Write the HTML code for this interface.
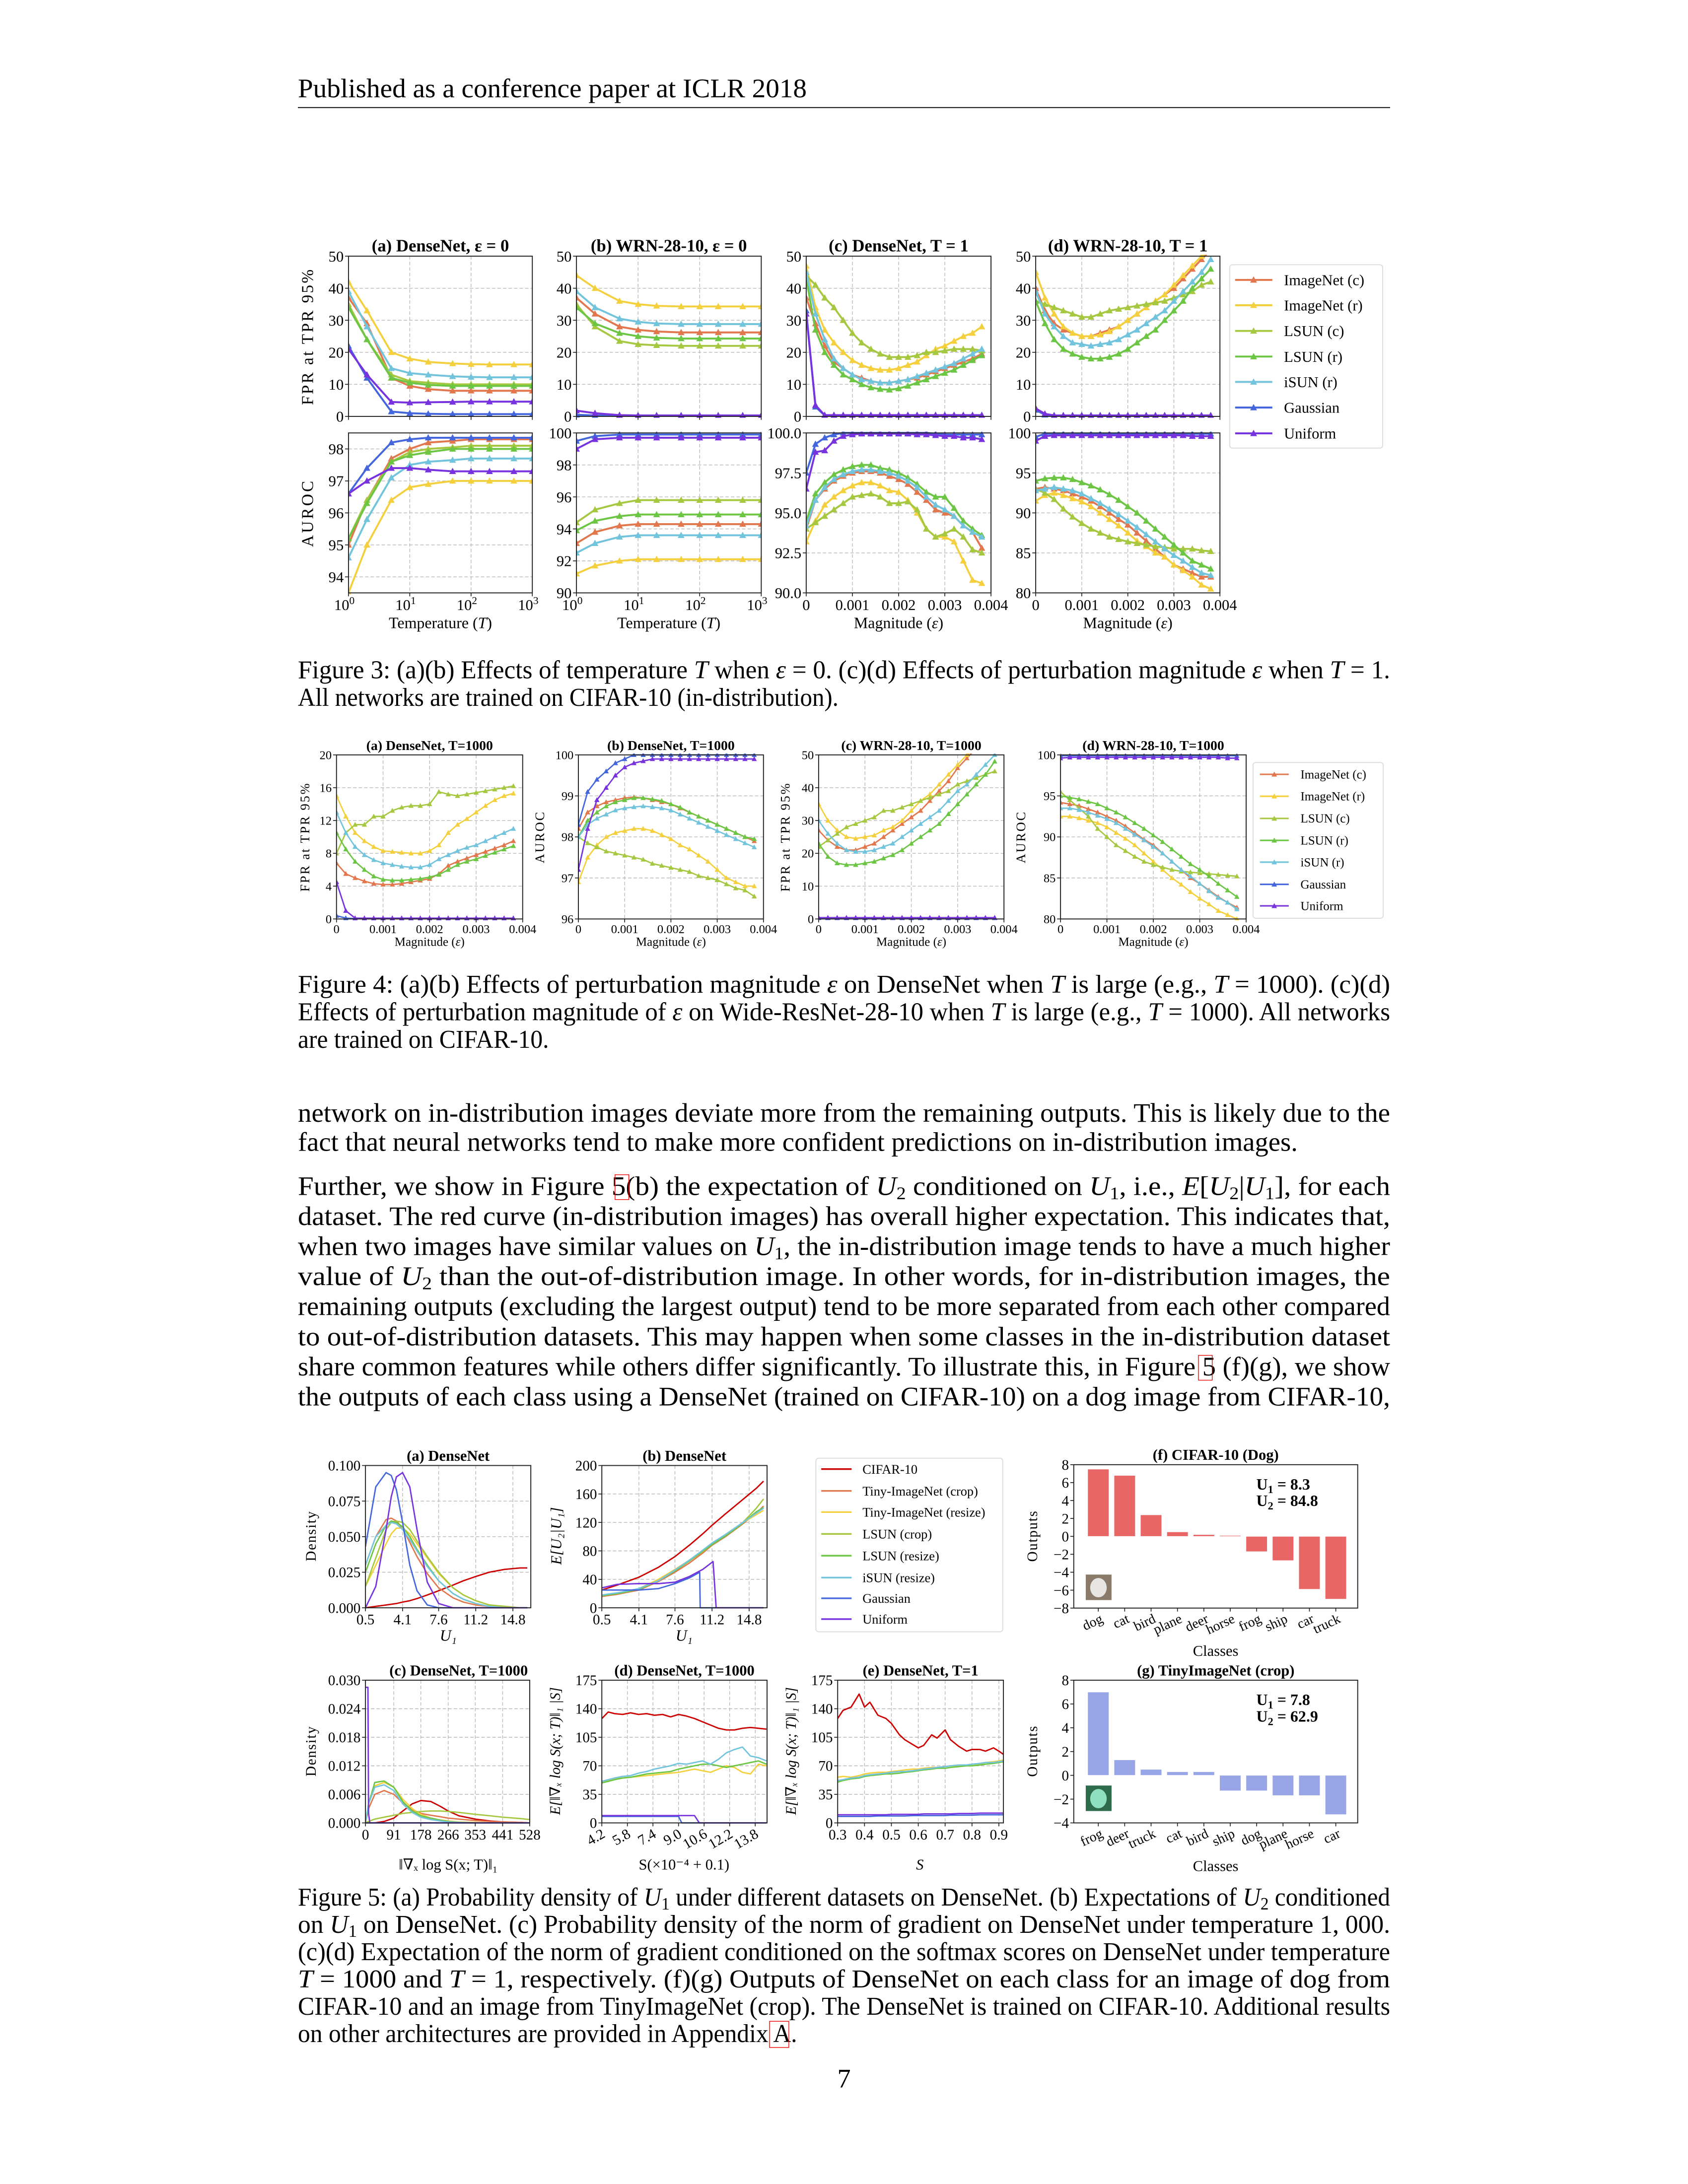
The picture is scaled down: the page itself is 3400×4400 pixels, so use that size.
<!DOCTYPE html>
<html><head><meta charset="utf-8"><title>ICLR 2018 page 7</title>
<style>
html,body{margin:0;padding:0;background:#fff;}
svg{display:block;}
text{font-family:"Liberation Serif","DejaVu Serif",serif;fill:#000;}
.it{font-style:italic;}
.b{font-weight:bold;}
</style></head>
<body>
<svg id="page-svg" xmlns="http://www.w3.org/2000/svg" width="3400" height="4400" viewBox="0 0 1224 1584">
<rect x="0" y="0" width="1224" height="1584" fill="#fff"/>
<text x="216" y="70.5" font-size="19.5" textLength="369" lengthAdjust="spacingAndGlyphs">Published as a conference paper at ICLR 2018</text>
<line x1="216" y1="78" x2="1008" y2="78" stroke="#000" stroke-width="0.7"/>

<g font-size="18.5">
<text x="216" y="492" textLength="792" lengthAdjust="spacingAndGlyphs">Figure 3: (a)(b) Effects of temperature <tspan class="it">T</tspan> when <tspan class="it">ε</tspan> = 0. (c)(d) Effects of perturbation magnitude <tspan class="it">ε</tspan> when <tspan class="it">T</tspan> = 1.</text>
<text x="216" y="512" textLength="392" lengthAdjust="spacingAndGlyphs">All networks are trained on CIFAR-10 (in-distribution).</text>
</g>
<g font-size="18.5">
<text x="216" y="720" textLength="792" lengthAdjust="spacingAndGlyphs">Figure 4: (a)(b) Effects of perturbation magnitude <tspan class="it">ε</tspan> on DenseNet when <tspan class="it">T</tspan> is large (e.g., <tspan class="it">T</tspan> = 1000). (c)(d)</text>
<text x="216" y="740" textLength="792" lengthAdjust="spacingAndGlyphs">Effects of perturbation magnitude of <tspan class="it">ε</tspan> on Wide-ResNet-28-10 when <tspan class="it">T</tspan> is large (e.g., <tspan class="it">T</tspan> = 1000). All networks</text>
<text x="216" y="760" textLength="182" lengthAdjust="spacingAndGlyphs">are trained on CIFAR-10.</text>
</g>

<g font-size="19.5">
<text x="216" y="813.6" textLength="792" lengthAdjust="spacingAndGlyphs">network on in-distribution images deviate more from the remaining outputs. This is likely due to the</text>
<text x="216" y="834.6" textLength="725" lengthAdjust="spacingAndGlyphs">fact that neural networks tend to make more confident predictions on in-distribution images.</text>
<text x="216" y="866.7" textLength="792" lengthAdjust="spacingAndGlyphs">Further, we show in Figure 5(b) the expectation of <tspan class="it">U</tspan><tspan font-size="13" dy="3">2</tspan><tspan dy="-3"> conditioned on </tspan><tspan class="it">U</tspan><tspan font-size="13" dy="3">1</tspan><tspan dy="-3">, i.e., </tspan><tspan class="it">E</tspan>[<tspan class="it">U</tspan><tspan font-size="13" dy="3">2</tspan><tspan dy="-3">|</tspan><tspan class="it">U</tspan><tspan font-size="13" dy="3">1</tspan><tspan dy="-3">], for each</tspan></text>
<text x="216" y="888.5" textLength="792" lengthAdjust="spacingAndGlyphs">dataset. The red curve (in-distribution images) has overall higher expectation. This indicates that,</text>
<text x="216" y="910.3" textLength="792" lengthAdjust="spacingAndGlyphs">when two images have similar values on <tspan class="it">U</tspan><tspan font-size="13" dy="3">1</tspan><tspan dy="-3">, the in-distribution image tends to have a much higher</tspan></text>
<text x="216" y="932.1" textLength="792" lengthAdjust="spacingAndGlyphs">value of <tspan class="it">U</tspan><tspan font-size="13" dy="3">2</tspan><tspan dy="-3"> than the out-of-distribution image.  In other words, for in-distribution images, the</tspan></text>
<text x="216" y="953.9" textLength="792" lengthAdjust="spacingAndGlyphs">remaining outputs (excluding the largest output) tend to be more separated from each other compared</text>
<text x="216" y="975.7" textLength="792" lengthAdjust="spacingAndGlyphs">to out-of-distribution datasets. This may happen when some classes in the in-distribution dataset</text>
<text x="216" y="997.5" textLength="792" lengthAdjust="spacingAndGlyphs">share common features while others differ significantly. To illustrate this, in Figure 5 (f)(g), we show</text>
<text x="216" y="1019.4" textLength="792" lengthAdjust="spacingAndGlyphs">the outputs of each class using a DenseNet (trained on CIFAR-10) on a dog image from CIFAR-10,</text>
</g>
<rect x="446" y="852" width="10" height="18" fill="none" stroke="#e00" stroke-width="0.5"/>
<rect x="869" y="983" width="10" height="18" fill="none" stroke="#e00" stroke-width="0.5"/>

<g font-size="18.5">
<text x="216" y="1382" textLength="792" lengthAdjust="spacingAndGlyphs">Figure 5: (a) Probability density of <tspan class="it">U</tspan><tspan font-size="12.5" dy="3">1</tspan><tspan dy="-3"> under different datasets on DenseNet. (b) Expectations of </tspan><tspan class="it">U</tspan><tspan font-size="12.5" dy="3">2</tspan><tspan dy="-3"> conditioned</tspan></text>
<text x="216" y="1401.8" textLength="792" lengthAdjust="spacingAndGlyphs">on <tspan class="it">U</tspan><tspan font-size="12.5" dy="3">1</tspan><tspan dy="-3"> on DenseNet. (c) Probability density of the norm of gradient on DenseNet under temperature 1, 000.</tspan></text>
<text x="216" y="1421.6" textLength="792" lengthAdjust="spacingAndGlyphs">(c)(d) Expectation of the norm of gradient conditioned on the softmax scores on DenseNet under temperature</text>
<text x="216" y="1441.4" textLength="792" lengthAdjust="spacingAndGlyphs"><tspan class="it">T</tspan> = 1000 and <tspan class="it">T</tspan> = 1, respectively.  (f)(g) Outputs of DenseNet on each class for an image of dog from</text>
<text x="216" y="1461.2" textLength="792" lengthAdjust="spacingAndGlyphs">CIFAR-10 and an image from TinyImageNet (crop). The DenseNet is trained on CIFAR-10. Additional results</text>
<text x="216" y="1481" textLength="362" lengthAdjust="spacingAndGlyphs">on other architectures are provided in Appendix A.</text>
</g>
<rect x="558" y="1466" width="14" height="19" fill="none" stroke="#e00" stroke-width="0.5"/>
<text x="612" y="1514" font-size="19.5" text-anchor="middle">7</text>
</svg>

<script>
// ---------------- DATA ----------------
const TEMPS = [1, 2, 5, 10, 20, 50, 100, 200, 500, 1000];
const EPS = [0, 0.0002, 0.0004, 0.0006, 0.0008, 0.001, 0.0012, 0.0014, 0.0016, 0.0018, 0.002, 0.0022, 0.0024, 0.0026, 0.0028, 0.003, 0.0032, 0.0034, 0.0036, 0.0038];
const OOD_NAMES = ['ImageNet (c)', 'ImageNet (r)', 'LSUN (c)', 'LSUN (r)', 'iSUN (r)', 'Gaussian', 'Uniform'];

// Figure 3 (a) DenseNet eps=0
const f3aFpr = [
  [37, 29, 12, 9.5, 8.5, 8, 8, 8, 8, 8],
  [42, 33, 20, 18, 17, 16.5, 16.3, 16.2, 16.2, 16.2],
  [35, 24, 13, 11, 10.5, 10, 10, 10, 10, 10],
  [34, 24, 12, 10.5, 9.8, 9.5, 9.5, 9.5, 9.5, 9.5],
  [39, 28, 15, 13.5, 13, 12.5, 12.3, 12.2, 12.2, 12.2],
  [22, 12, 1.5, 1, 0.8, 0.7, 0.7, 0.7, 0.7, 0.7],
  [21, 13, 4.5, 4.3, 4.4, 4.5, 4.6, 4.6, 4.6, 4.6]];
const f3aAuc = [
  [95, 96.4, 97.7, 98.0, 98.2, 98.25, 98.3, 98.3, 98.3, 98.3],
  [93.5, 95, 96.4, 96.8, 96.9, 97.0, 97.0, 97.0, 97.0, 97.0],
  [95.2, 96.4, 97.6, 97.9, 98.0, 98.05, 98.1, 98.1, 98.1, 98.1],
  [95.2, 96.3, 97.6, 97.8, 97.9, 98.0, 98.0, 98.0, 98.0, 98.0],
  [94.6, 95.8, 97.1, 97.5, 97.6, 97.65, 97.7, 97.7, 97.7, 97.7],
  [96.6, 97.4, 98.2, 98.3, 98.35, 98.35, 98.35, 98.35, 98.35, 98.35],
  [96.6, 97.0, 97.4, 97.4, 97.35, 97.3, 97.3, 97.3, 97.3, 97.3]];
// Figure 3 (b) WRN eps=0
const f3bFpr = [
  [37, 32, 28, 27, 26.5, 26.2, 26.2, 26.2, 26.2, 26.2],
  [44, 40, 36, 35, 34.5, 34.3, 34.3, 34.3, 34.3, 34.3],
  [35, 28, 23.5, 22.5, 22.2, 22, 22, 22, 22, 22],
  [34, 29, 26, 25, 24.5, 24.3, 24.3, 24.3, 24.3, 24.3],
  [39, 34, 30.5, 29.5, 29, 28.8, 28.8, 28.8, 28.8, 28.8],
  [0.5, 0.3, 0.2, 0.2, 0.2, 0.2, 0.2, 0.2, 0.2, 0.2],
  [1.8, 1, 0.4, 0.3, 0.3, 0.3, 0.3, 0.3, 0.3, 0.3]];
const f3bAuc = [
  [93.1, 93.8, 94.2, 94.3, 94.3, 94.3, 94.3, 94.3, 94.3, 94.3],
  [91.2, 91.7, 92.0, 92.1, 92.1, 92.1, 92.1, 92.1, 92.1, 92.1],
  [94.4, 95.2, 95.6, 95.8, 95.8, 95.8, 95.8, 95.8, 95.8, 95.8],
  [93.9, 94.5, 94.8, 94.9, 94.9, 94.9, 94.9, 94.9, 94.9, 94.9],
  [92.5, 93.1, 93.5, 93.6, 93.6, 93.6, 93.6, 93.6, 93.6, 93.6],
  [99.5, 99.8, 99.9, 99.9, 99.9, 99.9, 99.9, 99.9, 99.9, 99.9],
  [99.0, 99.6, 99.7, 99.7, 99.7, 99.7, 99.7, 99.7, 99.7, 99.7]];
// Figure 3 (c) DenseNet T=1
const f3cFpr = [
  [37, 29, 22, 17, 15, 13, 12, 11, 10.5, 10.5, 11, 11.5, 12, 13, 14, 15, 16, 17, 18, 19.5],
  [47, 34, 27, 23, 20, 17.5, 16, 15, 14.5, 14.5, 15, 16, 17, 19, 21, 22, 23.5, 25, 26, 28],
  [44, 41, 37, 34, 30, 26, 23, 21, 19.5, 18.5, 18.5, 18.5, 19, 20, 20, 20.5, 21, 21, 21, 20.5],
  [43, 27, 20, 16, 13, 11.5, 10, 9, 8.5, 8.3, 8.7, 9.5, 10.5, 11.5, 12.5, 13.5, 14.5, 16, 17.5, 19],
  [45, 32, 24, 18, 15, 13, 11.5, 11, 10.5, 10.5, 11, 11.5, 12.5, 13.5, 14.5, 15.5, 16.5, 18, 19.5, 21],
  [33, 3, 0.3, 0.3, 0.3, 0.3, 0.3, 0.3, 0.3, 0.3, 0.3, 0.3, 0.3, 0.3, 0.3, 0.3, 0.3, 0.3, 0.3, 0.3],
  [32, 3.5, 0.4, 0.4, 0.4, 0.4, 0.4, 0.4, 0.4, 0.4, 0.4, 0.4, 0.4, 0.4, 0.4, 0.4, 0.4, 0.4, 0.4, 0.4]];
const f3cAuc = [
  [94, 95.8, 96.5, 97, 97.3, 97.5, 97.6, 97.6, 97.5, 97.3, 97.1, 96.8, 96.3, 95.8, 95.2, 95, 94.8, 94.2, 93.8, 92.8],
  [93.2, 94.5, 95.5, 96, 96.4, 96.7, 96.9, 96.9, 96.7, 96.4, 96.3, 95.8, 95, 94, 93.5, 93.5, 93.2, 92, 90.8, 90.6],
  [94, 94.4, 94.8, 95.2, 95.6, 96, 96.1, 96.2, 96.0, 95.6, 95.6, 95.7, 95.2, 94, 93.5, 93.7, 94, 93.5, 92.7, 92.5],
  [94.5, 96.2, 96.9, 97.4, 97.7, 97.9, 98, 98, 97.8, 97.7, 97.5, 97.2, 96.8, 96.3, 96, 96, 95.3, 94.5, 94, 93.6],
  [94.2, 95.8, 96.6, 97.1, 97.4, 97.6, 97.7, 97.7, 97.6, 97.5, 97.3, 97.0, 96.6, 96, 95.5, 95.2, 94.8, 94.2, 93.8, 93.5],
  [97.5, 99.3, 99.7, 99.9, 100, 100, 100, 100, 100, 100, 100, 100, 100, 100, 99.95, 99.9, 99.9, 99.9, 99.9, 99.9],
  [96.5, 98.8, 98.9, 99.5, 99.8, 99.9, 99.95, 99.95, 99.95, 99.95, 99.95, 99.95, 99.9, 99.9, 99.85, 99.8, 99.8, 99.7, 99.7, 99.6]];
// Figure 3 (d) WRN T=1
const f3dFpr = [
  [40, 33, 29, 27, 26, 25, 25, 26, 27, 28, 30, 32, 34, 36, 38, 40, 43, 46, 49, 52],
  [45, 37, 32, 28, 26, 25, 25, 25.5, 26.5, 28, 30, 32, 34, 36, 38, 41, 44, 47, 50, 52],
  [36, 35, 34, 33, 32, 31, 31, 32, 33, 33.5, 34, 34.5, 35, 35.5, 36, 37, 38, 39, 41, 42],
  [36, 29, 24, 21, 19.5, 18.5, 18, 18, 18.5, 19.5, 21, 23, 25, 27, 30, 33, 36, 40, 43, 46],
  [39, 32, 28, 25, 23, 22.5, 22, 22.5, 23, 24, 25.5, 27, 29, 31, 33, 36, 39, 42, 45, 49],
  [2, 0.5, 0.3, 0.3, 0.3, 0.3, 0.3, 0.3, 0.3, 0.3, 0.3, 0.3, 0.3, 0.3, 0.3, 0.3, 0.3, 0.3, 0.3, 0.3],
  [2.5, 0.8, 0.3, 0.3, 0.3, 0.3, 0.3, 0.3, 0.3, 0.3, 0.3, 0.3, 0.3, 0.3, 0.3, 0.3, 0.3, 0.3, 0.3, 0.3]];
const f3dAuc = [
  [93, 93.2, 93, 92.8, 92.4, 92, 91.5, 90.8, 90, 89.2, 88.5, 87.5, 86.5, 85.5, 84.5, 83.5, 83, 82.5, 82, 82],
  [91.5, 92.2, 92.5, 92.2, 91.8, 91.4, 90.8, 90, 89.2, 88.4, 87.5, 86.5, 85.8, 85, 84.5, 83.5, 82.8, 82, 81, 80.5],
  [93, 92.5, 91.7, 90.5, 89.5, 88.7, 88, 87.5, 87, 86.7, 86.4, 86.2, 86, 85.8, 85.7, 85.5, 85.5, 85.5, 85.3, 85.2],
  [94, 94.3, 94.4, 94.4, 94.2, 93.8, 93.4, 92.9, 92.3, 91.6, 90.8, 90, 89, 88, 87, 86, 85, 84, 83.5, 83],
  [92.8, 93, 93.2, 93, 92.8, 92.4, 91.8, 91.2, 90.5, 89.8, 89, 88.2, 87.3, 86.4, 85.5, 84.7, 84, 83.2, 82.5, 82.2],
  [99.5, 99.9, 99.9, 99.9, 99.9, 99.9, 99.9, 99.9, 99.9, 99.9, 99.9, 99.9, 99.9, 99.9, 99.9, 99.9, 99.9, 99.9, 99.9, 99.9],
  [99.0, 99.6, 99.7, 99.7, 99.7, 99.7, 99.7, 99.7, 99.7, 99.7, 99.7, 99.7, 99.7, 99.7, 99.7, 99.7, 99.7, 99.6, 99.6, 99.6]];

// Figure 4 (T=1000)
const f4aFpr = [
  [6.8, 5.5, 5, 4.6, 4.3, 4.2, 4.2, 4.3, 4.5, 4.7, 4.9, 5.5, 6.5, 7, 7.4, 7.8, 8.2, 8.6, 9, 9.5],
  [15, 12.5, 10.5, 9.5, 8.8, 8.3, 8.2, 8.1, 8, 8, 8.3, 9, 10.5, 11.5, 12.2, 13, 13.8, 14.5, 15, 15.3],
  [8, 10.5, 11.5, 11.5, 12.5, 12.5, 13.2, 13.6, 13.8, 13.8, 14, 15.5, 15.2, 15, 15.2, 15.4, 15.6, 15.8, 16, 16.2],
  [10.5, 8.5, 7, 6, 5.2, 4.8, 4.7, 4.7, 4.8, 4.9, 5.1, 5.4, 6, 6.6, 7, 7.3, 7.7, 8.1, 8.5, 8.9],
  [13, 10.5, 8.8, 7.8, 7.2, 6.8, 6.6, 6.4, 6.3, 6.3, 6.6, 7.3, 7.8, 8.3, 8.7, 9, 9.5, 10, 10.5, 11],
  [0.4, 0.1, 0.05, 0.05, 0.05, 0.05, 0.05, 0.05, 0.05, 0.05, 0.05, 0.05, 0.05, 0.05, 0.05, 0.05, 0.05, 0.05, 0.05, 0.05],
  [4.5, 1, 0.1, 0.1, 0.1, 0.1, 0.1, 0.1, 0.1, 0.1, 0.1, 0.1, 0.1, 0.1, 0.1, 0.1, 0.1, 0.1, 0.1, 0.1]];
const f4bAuc = [
  [98.2, 98.6, 98.75, 98.85, 98.9, 98.95, 98.97, 98.95, 98.9, 98.85, 98.8, 98.7, 98.6, 98.5, 98.4, 98.3, 98.2, 98.1, 98.0, 97.9],
  [96.9, 97.5, 97.8, 98.0, 98.1, 98.15, 98.2, 98.2, 98.15, 98.05, 97.95, 97.8, 97.7, 97.55, 97.4, 97.2, 97.0, 96.9, 96.8, 96.8],
  [98.0, 97.85, 97.75, 97.65, 97.6, 97.55, 97.5, 97.45, 97.35, 97.3, 97.25, 97.2, 97.15, 97.05, 97, 96.95, 96.85, 96.75, 96.7, 96.55],
  [98.0, 98.4, 98.6, 98.75, 98.85, 98.9, 98.95, 98.95, 98.92, 98.88, 98.8, 98.72, 98.6, 98.5, 98.4, 98.3, 98.2, 98.1, 98, 97.95],
  [98.0, 98.3, 98.45, 98.55, 98.65, 98.7, 98.73, 98.75, 98.73, 98.7, 98.65, 98.55, 98.45, 98.35, 98.25, 98.15, 98.05, 97.95, 97.85, 97.75],
  [98.3, 99.1, 99.4, 99.6, 99.8, 99.9, 100, 100, 100, 100, 100, 100, 100, 100, 100, 100, 100, 100, 100, 100],
  [97.2, 98.2, 98.9, 99.2, 99.5, 99.7, 99.8, 99.85, 99.9, 99.9, 99.9, 99.9, 99.9, 99.9, 99.9, 99.9, 99.9, 99.9, 99.9, 99.9]];
const f4cFpr = [
  [27, 24, 22, 21, 21, 22, 23, 25, 27, 29, 31, 33, 36, 39, 42, 46, 49, 52, 55, 58],
  [35, 30, 27, 25, 24.5, 25, 25.5, 27, 28, 30, 33, 36, 38, 41, 44, 47, 50, 52, 54, 56],
  [22, 24, 26, 28, 29, 30, 31, 33, 33, 34, 35, 36, 37, 38, 39, 41, 42, 43, 44, 45],
  [23, 19, 17, 16.5, 16.5, 17, 17.5, 18.5, 19.5, 21, 23, 25, 27, 29, 32, 35, 38, 41, 44, 48],
  [30, 26, 23, 21, 20.5, 20.5, 21, 22, 23, 25, 27, 29, 31, 33, 36, 39, 41, 44, 47, 50],
  [0.3, 0.3, 0.3, 0.3, 0.3, 0.3, 0.3, 0.3, 0.3, 0.3, 0.3, 0.3, 0.3, 0.3, 0.3, 0.3, 0.3, 0.3, 0.3, 0.3],
  [0.4, 0.4, 0.4, 0.4, 0.4, 0.4, 0.4, 0.4, 0.4, 0.4, 0.4, 0.4, 0.4, 0.4, 0.4, 0.4, 0.4, 0.4, 0.4, 0.4]];
const f4dAuc = [
  [94.2, 94, 93.8, 93.4, 93, 92.5, 92, 91.3, 90.5, 89.7, 89, 88, 87, 86, 85, 84.3, 83.5, 82.7, 82, 81.4],
  [92.5, 92.5, 92.3, 92, 91.7, 91.2, 90.5, 89.8, 89, 88, 87, 86, 85, 84.2, 83.3, 82.5, 81.8, 81, 80.5, 80],
  [95.5, 94.5, 93.5, 92.5, 91, 90, 89, 88.3, 87.6, 87, 86.6, 86.3, 86, 85.8, 85.7, 85.6, 85.5, 85.4, 85.3, 85.2],
  [95, 94.8, 94.6, 94.3, 94, 93.5, 93, 92.4, 91.7, 91, 90.2, 89.4, 88.5, 87.6, 86.7, 86, 85.2, 84.3, 83.5, 82.7],
  [93.5, 93.5, 93.3, 93, 92.6, 92.2, 91.7, 91, 90.3, 89.6, 88.8, 88, 87, 86, 85.2, 84.3, 83.4, 82.6, 82, 81.2],
  [99.9, 99.9, 99.9, 99.9, 99.9, 99.9, 99.9, 99.9, 99.9, 99.9, 99.9, 99.9, 99.9, 99.9, 99.9, 99.9, 99.9, 99.9, 99.9, 99.9],
  [99.6, 99.7, 99.7, 99.7, 99.7, 99.7, 99.7, 99.7, 99.7, 99.7, 99.7, 99.7, 99.7, 99.7, 99.7, 99.7, 99.7, 99.7, 99.6, 99.6]];

// Figure 5
const F5_NAMES = ['CIFAR-10', 'Tiny-ImageNet (crop)', 'Tiny-ImageNet (resize)', 'LSUN (crop)', 'LSUN (resize)', 'iSUN (resize)', 'Gaussian', 'Uniform'];
const f5aX = [0.5, 1.5, 2.5, 3, 3.5, 4.1, 4.8, 5.5, 6.5, 7.6, 9, 10, 11.2, 12.5, 14, 15.5, 16.2];
const f5aY = [
  [0, 0.001, 0.002, 0.0025, 0.003, 0.004, 0.005, 0.0065, 0.009, 0.012, 0.016, 0.019, 0.022, 0.025, 0.027, 0.028, 0.028],
  [0.03, 0.05, 0.062, 0.063, 0.061, 0.056, 0.046, 0.036, 0.024, 0.014, 0.007, 0.004, 0.002, 0.001, 0, 0, 0],
  [0.015, 0.03, 0.045, 0.052, 0.056, 0.056, 0.052, 0.045, 0.035, 0.024, 0.014, 0.009, 0.005, 0.002, 0.001, 0, 0],
  [0.015, 0.035, 0.055, 0.06, 0.061, 0.06, 0.055, 0.047, 0.036, 0.025, 0.014, 0.009, 0.005, 0.002, 0.001, 0, 0],
  [0.025, 0.045, 0.058, 0.061, 0.06, 0.057, 0.05, 0.041, 0.03, 0.019, 0.01, 0.006, 0.003, 0.001, 0, 0, 0],
  [0.03, 0.05, 0.058, 0.06, 0.059, 0.055, 0.048, 0.04, 0.029, 0.019, 0.01, 0.006, 0.003, 0.001, 0, 0, 0],
  [0.043, 0.085, 0.095, 0.093, 0.083, 0.06, 0.03, 0.012, 0.002, 0, 0, 0, 0, 0, 0, 0, 0],
  [0, 0.015, 0.055, 0.078, 0.092, 0.095, 0.085, 0.055, 0.018, 0.003, 0, 0, 0, 0, 0, 0, 0]];
const f5bX = [0.5, 2, 4.1, 6, 7.6, 9, 10.3, 11.2, 12.5, 14, 15.5, 16.2];
const f5bY = [
  [25, 32, 43, 57, 72, 88, 104, 116, 132, 150, 168, 178],
  [16, 19, 25, 37, 50, 63, 77, 88, 100, 116, 133, 143],
  [17, 20, 27, 40, 54, 67, 80, 90, 102, 118, 131, 137],
  [17, 20, 26, 38, 52, 66, 79, 89, 101, 117, 140, 153],
  [17, 20, 26, 38, 52, 66, 80, 89, 101, 117, 135, 141],
  [18, 21, 27, 38, 53, 67, 81, 91, 103, 118, 133, 140]];
const f5bGaussX = [0.5, 2, 4.1, 6, 7.6, 9, 10.0, 10.05, 16.2];
const f5bGaussY = [25, 25, 25, 27, 34, 42, 50, 0, 0];
const f5bUnifX = [0.5, 2, 4.1, 6, 7.6, 9, 10.3, 11.3, 11.6, 16.2];
const f5bUnifY = [28, 33, 34, 34, 36, 44, 54, 65, 0, 0];
const f5cX = [0, 10, 30, 60, 91, 120, 150, 178, 210, 240, 266, 300, 353, 400, 441, 500, 528];
const f5cY = [
  [0, 0, 0, 0.0003, 0.001, 0.0025, 0.004, 0.0047, 0.0045, 0.0035, 0.0025, 0.0015, 0.0008, 0.0004, 0.0002, 0.0001, 0],
  [0, 0.003, 0.006, 0.0068, 0.006, 0.0042, 0.0028, 0.002, 0.0016, 0.0013, 0.001, 0.0008, 0.0005, 0.0003, 0.0002, 0.0001, 0],
  [0, 0.004, 0.0078, 0.0085, 0.0075, 0.005, 0.003, 0.0018, 0.001, 0.0006, 0.0004, 0.0002, 0.0001, 0, 0, 0, 0],
  [0, 0.0003, 0.0008, 0.0012, 0.0016, 0.002, 0.0022, 0.0024, 0.0025, 0.0025, 0.0024, 0.0022, 0.0018, 0.0015, 0.0012, 0.0009, 0.0007],
  [0, 0.004, 0.0085, 0.0088, 0.0075, 0.0045, 0.0025, 0.0015, 0.001, 0.0006, 0.0003, 0.0001, 0, 0, 0, 0, 0],
  [0, 0.004, 0.0075, 0.008, 0.0068, 0.004, 0.0022, 0.0012, 0.0007, 0.0004, 0.0002, 0.0001, 0, 0, 0, 0, 0],
  [0, 0, 0, 0, 0, 0, 0, 0, 0, 0, 0, 0, 0, 0, 0, 0, 0]];
const f5cUnifX = [0, 8, 10, 14, 528];
const f5cUnifY = [0.0285, 0.0285, 0.002, 0, 0];
const f5dX = [4.2, 4.6, 5, 5.5, 6, 6.5, 7, 7.5, 8, 8.5, 9, 9.5, 10, 10.5, 11, 11.5, 12, 12.5, 13, 13.5, 14, 14.5];
const f5dY = [
  [128, 136, 134, 133, 135, 133, 134, 132, 133, 130, 133, 131, 128, 124, 120, 116, 114, 114, 116, 117, 116, 115],
  null,
  [50, 52, 54, 55, 56, 57, 58, 59, 60, 61, 62, 64, 66, 64, 62, 66, 70, 68, 62, 60, 72, 70],
  null,
  [49, 51, 53, 55, 56, 58, 60, 61, 62, 63, 66, 68, 70, 72, 72, 70, 68, 70, 72, 74, 76, 72],
  [51, 53, 55, 57, 58, 61, 63, 66, 68, 70, 73, 72, 74, 76, 72, 78, 86, 90, 93, 82, 80, 76]];
const f5dGaussX = [4.2, 9.0, 9.2, 14.5];
const f5dGaussY = [8, 8, 0, 0];
const f5dUnifX = [4.2, 10.0, 10.3, 14.5];
const f5dUnifY = [9, 9, 0, 0];
const f5eX = [0.3, 0.32, 0.35, 0.38, 0.4, 0.42, 0.45, 0.48, 0.5, 0.53, 0.55, 0.58, 0.6, 0.62, 0.65, 0.67, 0.7, 0.72, 0.75, 0.78, 0.8, 0.83, 0.85, 0.88, 0.9, 0.917];
const f5eY = [
  [128, 138, 142, 158, 142, 148, 132, 128, 122, 108, 102, 96, 92, 95, 108, 104, 114, 102, 94, 88, 90, 90, 88, 92, 88, 84],
  null,
  [56, 57, 56, 58, 60, 61, 62, 62, 63, 64, 65, 66, 66, 67, 68, 68, 69, 70, 70, 71, 72, 72, 74, 75, 76, 77],
  null,
  [50, 52, 54, 55, 57, 58, 59, 60, 60, 61, 62, 63, 64, 65, 66, 67, 67, 68, 69, 70, 70, 71, 72, 73, 74, 75],
  [52, 53, 55, 56, 58, 59, 60, 61, 62, 63, 63, 64, 65, 66, 67, 68, 69, 70, 71, 71, 72, 73, 74, 74, 75, 76],
  [8, 8, 8, 8, 8, 8, 8.5, 8.5, 8.5, 8.5, 8.5, 9, 9, 9, 9, 9, 9, 9.5, 9.5, 9.5, 9.5, 10, 10, 10, 10, 10],
  [10, 10, 10, 10, 10, 10, 10, 10, 10.5, 10.5, 10.5, 10.5, 10.5, 11, 11, 11, 11, 11, 11.5, 11.5, 11.5, 12, 12, 12, 12, 12]];
const f5fClasses = ['dog', 'cat', 'bird', 'plane', 'deer', 'horse', 'frog', 'ship', 'car', 'truck'];
const f5fValues = [7.5, 6.8, 2.4, 0.5, 0.2, 0.1, -1.7, -2.7, -5.9, -7.0];
const f5gClasses = ['frog', 'deer', 'truck', 'cat', 'bird', 'ship', 'dog', 'plane', 'horse', 'car'];
const f5gValues = [7.0, 1.3, 0.5, 0.3, 0.3, -1.3, -1.3, -1.7, -1.7, -3.3];

// ---------------- DRAWING ----------------
const COLORS = ['#e2774d', '#f4d03f', '#a6c841', '#6cc644', '#72c3dc', '#4466dd', '#7733dd'];
const F5_COLORS = ['#cc0000', '#e2774d', '#f4d03f', '#a6c841', '#6cc644', '#72c3dc', '#4466dd', '#7733dd'];
const NS = 'http://www.w3.org/2000/svg';
const svg = document.getElementById('page-svg');
let clipN = 0;
function mk(tag, parent, a) {
  const e = document.createElementNS(NS, tag);
  for (const k in a) e.setAttribute(k, a[k]);
  parent.appendChild(e);
  return e;
}
function txt(parent, x, y, s, a) {
  const t = mk('text', parent, Object.assign({x: x, y: y}, a || {}));
  t.textContent = s;
  return t;
}

function axes(o) {
  const g = mk('g', svg, {});
  
  
  const L = Math.log10;
  const sx = o.xlog ? v => o.x0 + (L(v) - L(o.xmin)) / (L(o.xmax) - L(o.xmin)) * (o.x1 - o.x0)
                    : v => o.x0 + (v - o.xmin) / (o.xmax - o.xmin) * (o.x1 - o.x0);
  const sy = v => o.y1 - (v - o.ymin) / (o.ymax - o.ymin) * (o.y1 - o.y0);
  const fs = o.fs || 11;
  const grid = mk('g', g, {stroke: '#b8b8b8', 'stroke-width': 0.5, 'stroke-dasharray': '2.5,1.5', fill: 'none'});
  
  
  if (o.xgrid !== false) (o.xt || []).forEach(v => mk('line', grid, {x1: sx(v), x2: sx(v), y1: o.y0, y2: o.y1}));
  if (o.ygrid !== false) (o.yt || []).forEach(v => mk('line', grid, {x1: o.x0, x2: o.x1, y1: sy(v), y2: sy(v)}));
  const id = 'clip' + (clipN++);
  const cp = mk('clipPath', g, {id: id});
  mk('rect', cp, {x: o.x0, y: o.y0 - 1, width: o.x1 - o.x0, height: o.y1 - o.y0 + 2});
  const plot = mk('g', g, {'clip-path': 'url(#' + id + ')'});
  
  
  const frame = mk('rect', g, {x: o.x0, y: o.y0, width: o.x1 - o.x0, height: o.y1 - o.y0, fill: 'none', stroke: '#222', 'stroke-width': 0.7});
  
  
  const tk = mk('g', g, {stroke: '#222', 'stroke-width': 0.6});
  
  
  (o.yt || []).forEach(v => mk('line', tk, {x1: o.x0 - 2.5, x2: o.x0, y1: sy(v), y2: sy(v)}));
  (o.xt || []).forEach(v => mk('line', tk, {x1: sx(v), x2: sx(v), y1: o.y1, y2: o.y1 + 2.5}));
  if (o.ytl) o.yt.forEach((v, i) => {
    const t = txt(g, o.x0 - 3.5, sy(v) + fs * 0.35, o.ytl[i], {'font-size': fs, 'text-anchor': 'end'});
    
    
  });
  if (o.xtl) o.xt.forEach((v, i) => {
    let t;
    if (o.xrot) {
      const X = sx(v) + 3, Y = o.y1 + fs * 0.95;
      t = txt(g, X, Y, o.xtl[i], {'font-size': fs, 'text-anchor': 'end', transform: 'rotate(' + o.xrot + ' ' + X + ' ' + Y + ')'});
    } else if (o.xlog) {
      t = txt(g, sx(v) - 3, o.y1 + fs + 1.5, '10', {'font-size': fs, 'text-anchor': 'middle'});
      const sp = mk('tspan', t, {'font-size': fs * 0.7, dy: -fs * 0.4});
      sp.textContent = o.xtl[i];
    } else {
      t = txt(g, sx(v), o.y1 + fs + 1.5, o.xtl[i], {'font-size': fs, 'text-anchor': 'middle'});
    }
    
    
  });
  if (o.title) {
    const t = txt(g, (o.x0 + o.x1) / 2 + (o.tdx || 0), o.y0 - 3.5, o.title, {'font-size': o.tfs || fs + 1, 'text-anchor': 'middle', 'font-weight': 'bold'});
    
    
  }
  return {sx: sx, sy: sy, plot: plot, g: g, o: o};
}

function series(ax, xs, ys, color, w, ms, name) {
  const pts = xs.map((x, i) => ax.sx(x).toFixed(2) + ',' + ax.sy(ys[i]).toFixed(2)).join(' ');
  const pl = mk('polyline', ax.plot, {points: pts, fill: 'none', stroke: color, 'stroke-width': w, 'stroke-linejoin': 'round'});
  
  
  if (ms) {
    xs.forEach((x, i) => {
      const X = ax.sx(x), Y = ax.sy(ys[i]);
      const m = mk('path', ax.plot, {d: 'M' + X + ',' + (Y - ms) + 'L' + (X + ms * 0.95) + ',' + (Y + ms * 0.75) + 'L' + (X - ms * 0.95) + ',' + (Y + ms * 0.75) + 'Z', fill: color});
      
      
    });
  }
}

function ylabel(x, y, s, fs, extra) {
  const t = txt(svg, x, y, s, Object.assign({'font-size': fs, 'text-anchor': 'middle', transform: 'rotate(-90 ' + x + ' ' + y + ')'}, extra || {}));
  
  
  return t;
}
function xlabel(x, y, s, fs, extra) {
  const t = txt(svg, x, y, s, Object.assign({'font-size': fs, 'text-anchor': 'middle'}, extra || {}));
  
  
  return t;
}

// ---- Figure 3 ----
const f3cols = [[252.7, 386], [418, 552], [584.6, 718.6], [751, 884.6]];
const f3titles = ['(a) DenseNet, ε = 0', '(b) WRN-28-10, ε = 0', '(c) DenseNet, T = 1', '(d) WRN-28-10, T = 1'];
const f3top = [f3aFpr, f3bFpr, f3cFpr, f3dFpr];
const f3bot = [f3aAuc, f3bAuc, f3cAuc, f3dAuc];
const f3botRange = [[93.5, 98.5], [90, 100], [90, 100], [80, 100]];
const f3botTicks = [[94, 95, 96, 97, 98], [90, 92, 94, 96, 98, 100], [90, 92.5, 95, 97.5, 100], [80, 85, 90, 95, 100]];
const f3botTl = [['94', '95', '96', '97', '98'], ['90', '92', '94', '96', '98', '100'], ['90.0', '92.5', '95.0', '97.5', '100.0'], ['80', '85', '90', '95', '100']];
for (let p = 0; p < 4; p++) {
  const logx = p < 2;
  const xs = logx ? TEMPS : EPS;
  const xo = logx ? {xlog: true, xmin: 1, xmax: 1000, xt: [1, 10, 100, 1000]} : {xmin: 0, xmax: 0.004, xt: [0, 0.001, 0.002, 0.003, 0.004]};
  const top = axes(Object.assign({name: 'fig3-panel-' + 'abcd'[p] + '-fpr', x0: f3cols[p][0], x1: f3cols[p][1], y0: 185.8, y1: 302, ymin: 0, ymax: 50,
    yt: [0, 10, 20, 30, 40, 50], ytl: ['0', '10', '20', '30', '40', '50'], fs: 11, title: f3titles[p], tfs: 12.5}, xo));
  f3top[p].forEach((ys, i) => series(top, xs, ys, COLORS[i], 1.4, 2.6, 'fig3-fpr-' + OOD_NAMES[i].replace(/[^A-Za-z]+/g, '-').toLowerCase()));
  const bot = axes(Object.assign({name: 'fig3-panel-' + 'abcd'[p] + '-auroc', x0: f3cols[p][0], x1: f3cols[p][1], y0: 314, y1: 430,
    ymin: f3botRange[p][0], ymax: f3botRange[p][1], yt: f3botTicks[p], ytl: f3botTl[p], fs: 11,
    xtl: logx ? ['0', '1', '2', '3'] : ['0', '0.001', '0.002', '0.003', '0.004']}, xo));
  f3bot[p].forEach((ys, i) => series(bot, xs, ys, COLORS[i], 1.4, 2.6, 'fig3-auroc-' + OOD_NAMES[i].replace(/[^A-Za-z]+/g, '-').toLowerCase()));
  const xl = xlabel((f3cols[p][0] + f3cols[p][1]) / 2, 455.5, logx ? 'Temperature (' : 'Magnitude (', 11.5);
  const it = mk('tspan', xl, {'font-style': 'italic'});
  it.textContent = logx ? 'T' : 'ε';
  const cl = mk('tspan', xl, {});
  cl.textContent = ')';
}
ylabel(227, 244, 'FPR at TPR 95%', 12, {'letter-spacing': '1.2'});
ylabel(227, 372, 'AUROC', 12, {'letter-spacing': '1.5'});
// legend fig 3
{
  const lg = mk('g', svg, {});
  
  
  const box = mk('rect', lg, {x: 891.7, y: 192, width: 110.9, height: 133, rx: 2, fill: '#fff', stroke: '#ddd', 'stroke-width': 0.7});
  
  
  const ly = [203, 221.4, 240, 258.6, 277, 295.6, 314.3];
  OOD_NAMES.forEach((n, i) => {
    const e = mk('g', lg, {});
    
    
    mk('line', e, {x1: 895.6, x2: 922.6, y1: ly[i], y2: ly[i], stroke: COLORS[i], 'stroke-width': 1.4});
    mk('path', e, {d: 'M909,' + (ly[i] - 2.6) + 'l2.5,4.6h-5z', fill: COLORS[i]});
    txt(e, 931, ly[i] + 3.8, n, {'font-size': 11});
  });
}

// ---- Figure 4 ----
const f4cols = [[244, 379], [419.4, 553.6], [593.6, 728], [769, 903.6]];
const f4titles = ['(a) DenseNet, T=1000', '(b) DenseNet, T=1000', '(c) WRN-28-10, T=1000', '(d) WRN-28-10, T=1000'];
const f4data = [f4aFpr, f4bAuc, f4cFpr, f4dAuc];
const f4range = [[0, 20], [96, 100], [0, 50], [80, 100]];
const f4ticks = [[0, 4, 8, 12, 16, 20], [96, 97, 98, 99, 100], [0, 10, 20, 30, 40, 50], [80, 85, 90, 95, 100]];
for (let p = 0; p < 4; p++) {
  const ax = axes({name: 'fig4-panel-' + 'abcd'[p], x0: f4cols[p][0], x1: f4cols[p][1], y0: 547.5, y1: 666.5,
    xmin: 0, xmax: 0.004, xt: [0, 0.001, 0.002, 0.003, 0.004], xtl: ['0', '0.001', '0.002', '0.003', '0.004'],
    ymin: f4range[p][0], ymax: f4range[p][1], yt: f4ticks[p], ytl: f4ticks[p].map(String), fs: 8.8, ygrid: true,
    title: f4titles[p], tfs: 10});
  f4data[p].forEach((ys, i) => series(ax, EPS, ys, COLORS[i], 1.0, 2.0, 'fig4-' + OOD_NAMES[i].replace(/[^A-Za-z]+/g, '-').toLowerCase()));
  const xl = xlabel((f4cols[p][0] + f4cols[p][1]) / 2, 686, 'Magnitude (', 9);
  const it = mk('tspan', xl, {'font-style': 'italic'});
  it.textContent = 'ε';
  const cl = mk('tspan', xl, {});
  cl.textContent = ')';
  ylabel([224.3, 394.6, 572.6, 743.4][p], 607, p % 2 === 0 ? 'FPR at TPR 95%' : 'AUROC', 9.5, {'letter-spacing': '1'});
}
{
  const lg = mk('g', svg, {});
  
  
  const box = mk('rect', lg, {x: 908.6, y: 553, width: 94.4, height: 113, rx: 2, fill: '#fff', stroke: '#ddd', 'stroke-width': 0.7});
  
  
  const ly = [561.6, 577.5, 593.6, 609.5, 625.3, 641.4, 657];
  OOD_NAMES.forEach((n, i) => {
    const e = mk('g', lg, {});
    
    
    mk('line', e, {x1: 913.6, x2: 934.5, y1: ly[i], y2: ly[i], stroke: COLORS[i], 'stroke-width': 1.1});
    mk('path', e, {d: 'M924,' + (ly[i] - 2) + 'l2,3.6h-4z', fill: COLORS[i]});
    txt(e, 943, ly[i] + 3, n, {'font-size': 9});
  });
}

// ---- Figure 5 ----
const tU = [0.5, 4.1, 7.6, 11.2, 14.8];
const tUl = ['0.5', '4.1', '7.6', '11.2', '14.8'];
const ax5a = axes({name: 'fig5-panel-a', x0: 265, x1: 384.9, y0: 1062.9, y1: 1166.1, xmin: 0.5, xmax: 16.54, xt: tU, xtl: tUl,
  ymin: 0, ymax: 0.1, yt: [0, 0.025, 0.05, 0.075, 0.1], ytl: ['0.000', '0.025', '0.050', '0.075', '0.100'], fs: 10.5, title: '(a) DenseNet', tfs: 11});
f5aY.forEach((ys, i) => series(ax5a, f5aX, ys, F5_COLORS[i], 1.0, 0, 'fig5a-' + F5_NAMES[i].replace(/[^A-Za-z0-9]+/g, '-').toLowerCase()));
const ax5b = axes({name: 'fig5-panel-b', x0: 436.4, x1: 556.2, y0: 1062.9, y1: 1166.1, xmin: 0.5, xmax: 16.54, xt: tU, xtl: tUl,
  ymin: 0, ymax: 200, yt: [0, 40, 80, 120, 160, 200], ytl: ['0', '40', '80', '120', '160', '200'], fs: 10.5, title: '(b) DenseNet', tfs: 11});
f5bY.forEach((ys, i) => series(ax5b, f5bX, ys, F5_COLORS[i], 1.0, 0, 'fig5b-' + F5_NAMES[i].replace(/[^A-Za-z0-9]+/g, '-').toLowerCase()));
series(ax5b, f5bGaussX, f5bGaussY, F5_COLORS[6], 1.0, 0, 'fig5b-gaussian');
series(ax5b, f5bUnifX, f5bUnifY, F5_COLORS[7], 1.0, 0, 'fig5b-uniform');

const ax5c = axes({name: 'fig5-panel-c', x0: 265, x1: 384.1, y0: 1218.6, y1: 1322.1, xmin: 0, xmax: 528, xt: [0, 91, 178, 266, 353, 441, 528],
  xtl: ['0', '91', '178', '266', '353', '441', '528'], ymin: 0, ymax: 0.03, yt: [0, 0.006, 0.012, 0.018, 0.024, 0.03],
  ytl: ['0.000', '0.006', '0.012', '0.018', '0.024', '0.030'], fs: 10.5, title: '(c) DenseNet, T=1000', tfs: 11, tdx: 8});
f5cY.forEach((ys, i) => series(ax5c, f5cX, ys, F5_COLORS[i], 1.0, 0, 'fig5c-' + F5_NAMES[i].replace(/[^A-Za-z0-9]+/g, '-').toLowerCase()));
series(ax5c, f5cUnifX, f5cUnifY, F5_COLORS[7], 1.0, 0, 'fig5c-uniform');

const ax5d = axes({name: 'fig5-panel-d', x0: 436.4, x1: 556.2, y0: 1218.6, y1: 1322.1, xmin: 4.2, xmax: 14.54, xt: [4.2, 5.8, 7.4, 9.0, 10.6, 12.2, 13.8],
  xtl: ['4.2', '5.8', '7.4', '9.0', '10.6', '12.2', '13.8'], xrot: -30, ymin: 0, ymax: 175, yt: [0, 35, 70, 105, 140, 175],
  ytl: ['0', '35', '70', '105', '140', '175'], fs: 10.5, title: '(d) DenseNet, T=1000', tfs: 11});
f5dY.forEach((ys, i) => { if (ys) series(ax5d, f5dX, ys, F5_COLORS[i], 1.0, 0, 'fig5d-' + F5_NAMES[i].replace(/[^A-Za-z0-9]+/g, '-').toLowerCase()); });
series(ax5d, f5dGaussX, f5dGaussY, F5_COLORS[6], 1.0, 0, 'fig5d-gaussian');
series(ax5d, f5dUnifX, f5dUnifY, F5_COLORS[7], 1.0, 0, 'fig5d-uniform');

const ax5e = axes({name: 'fig5-panel-e', x0: 607.4, x1: 727.6, y0: 1218.6, y1: 1322.1, xmin: 0.3, xmax: 0.917, xt: [0.3, 0.4, 0.5, 0.6, 0.7, 0.8, 0.9],
  xtl: ['0.3', '0.4', '0.5', '0.6', '0.7', '0.8', '0.9'], ymin: 0, ymax: 175, yt: [0, 35, 70, 105, 140, 175],
  ytl: ['0', '35', '70', '105', '140', '175'], fs: 10.5, title: '(e) DenseNet, T=1', tfs: 11});
f5eY.forEach((ys, i) => { if (ys) series(ax5e, f5eX, ys, F5_COLORS[i], 1.0, 0, 'fig5e-' + F5_NAMES[i].replace(/[^A-Za-z0-9]+/g, '-').toLowerCase()); });

function bars(name, y0, y1, ymin, ymax, yt, classes, values, color, title, u1, u2, thumb) {
  const ax = axes({name: name, x0: 778.6, x1: 984.5, y0: y0, y1: y1, xmin: -0.93, xmax: 9.83, xt: classes.map((c, i) => i),
    ymin: ymin, ymax: ymax, yt: yt, ytl: yt.map(v => v < 0 ? '−' + (-v) : String(v)), fs: 10.5, xgrid: false, ygrid: false, title: title, tfs: 11});
  values.forEach((v, i) => {
    const X = ax.sx(i), w = 15.4;
    const r = mk('rect', ax.plot, {x: X - w / 2, y: Math.min(ax.sy(v), ax.sy(0)), width: w, height: Math.abs(ax.sy(v) - ax.sy(0)), fill: color, stroke: '#fff', 'stroke-width': 0.3});
    
    
    const LX = X + 4, LY = y1 + 10;
    const t = txt(ax.g, LX, LY, classes[i], {'font-size': 10, 'text-anchor': 'end', transform: 'rotate(-25 ' + LX + ' ' + LY + ')'});
    
    
  });
  const a1 = txt(ax.g, 911, y0 + 18, 'U', {'font-size': 11.5, 'font-weight': 'bold'});
  const s1 = mk('tspan', a1, {'font-size': 8, dy: 2.5}); s1.textContent = '1';
  const r1 = mk('tspan', a1, {dy: -2.5}); r1.textContent = ' = ' + u1;
  
  
  const a2 = txt(ax.g, 911, y0 + 30, 'U', {'font-size': 11.5, 'font-weight': 'bold'});
  const s2 = mk('tspan', a2, {'font-size': 8, dy: 2.5}); s2.textContent = '2';
  const r2 = mk('tspan', a2, {dy: -2.5}); r2.textContent = ' = ' + u2;
  
  
  const th = mk('g', ax.g, {});
  
  
  mk('rect', th, {x: 787.3, y: thumb, width: 18.7, height: 18.5, fill: thumb > 1200 ? '#2e6b4a' : '#8a7a6a'});
  mk('ellipse', th, {cx: 796.5, cy: thumb + 9.5, rx: 6, ry: 7, fill: thumb > 1200 ? '#8fe0c0' : '#e8e6e2'});
  return ax;
}
bars('fig5-panel-f', 1062.3, 1166.3, -8, 8, [-8, -6, -4, -2, 0, 2, 4, 6, 8], f5fClasses, f5fValues, '#e86666', '(f) CIFAR-10 (Dog)', '8.3', '84.8', 1142);
bars('fig5-panel-g', 1218.6, 1322.1, -4, 8, [-4, -2, 0, 2, 4, 6, 8], f5gClasses, f5gValues, '#98a6e8', '(g) TinyImageNet (crop)', '7.8', '62.9', 1295);

// fig 5 axis titles
ylabel(229, 1114, 'Density', 10.5, {'letter-spacing': '0.6'});
ylabel(229, 1270, 'Density', 10.5, {'letter-spacing': '0.6'});
ylabel(407, 1114, 'E[U₂|U₁]', 11, {'font-style': 'italic'});
ylabel(406, 1270, 'E[‖∇ₓ log S(x; T)‖₁ |S]', 10.5, {'font-style': 'italic'});
ylabel(577, 1270, 'E[‖∇ₓ log S(x; T)‖₁ |S]', 10.5, {'font-style': 'italic'});
ylabel(752, 1114, 'Outputs', 10.5, {'letter-spacing': '0.6'});
ylabel(752, 1270, 'Outputs', 10.5, {'letter-spacing': '0.6'});
xlabel(325, 1190, 'U₁', 11.5, {'font-style': 'italic'});
xlabel(496, 1190, 'U₁', 11.5, {'font-style': 'italic'});
xlabel(325, 1356, '‖∇ₓ log S(x; T)‖₁', 11);
xlabel(496, 1356, 'S(×10⁻⁴ + 0.1)', 11);
xlabel(667, 1356, 'S', 11, {'font-style': 'italic'});
xlabel(881.5, 1201, 'Classes', 11);
xlabel(881.5, 1357, 'Classes', 11);

// fig 5 legend
{
  const lg = mk('g', svg, {});
  
  
  const box = mk('rect', lg, {x: 591.6, y: 1057.6, width: 135.5, height: 125.9, rx: 2, fill: '#fff', stroke: '#ddd', 'stroke-width': 0.7});
  
  
  const ly = [1065.5, 1081.3, 1096.7, 1112.5, 1128.3, 1144.2, 1159.2, 1174.3];
  F5_NAMES.forEach((n, i) => {
    const e = mk('g', lg, {});
    
    
    mk('line', e, {x1: 595.5, x2: 617.5, y1: ly[i], y2: ly[i], stroke: F5_COLORS[i], 'stroke-width': 1.2});
    txt(e, 625.4, ly[i] + 3.3, n, {'font-size': 9.5});
  });
}
</script>
</body></html>
